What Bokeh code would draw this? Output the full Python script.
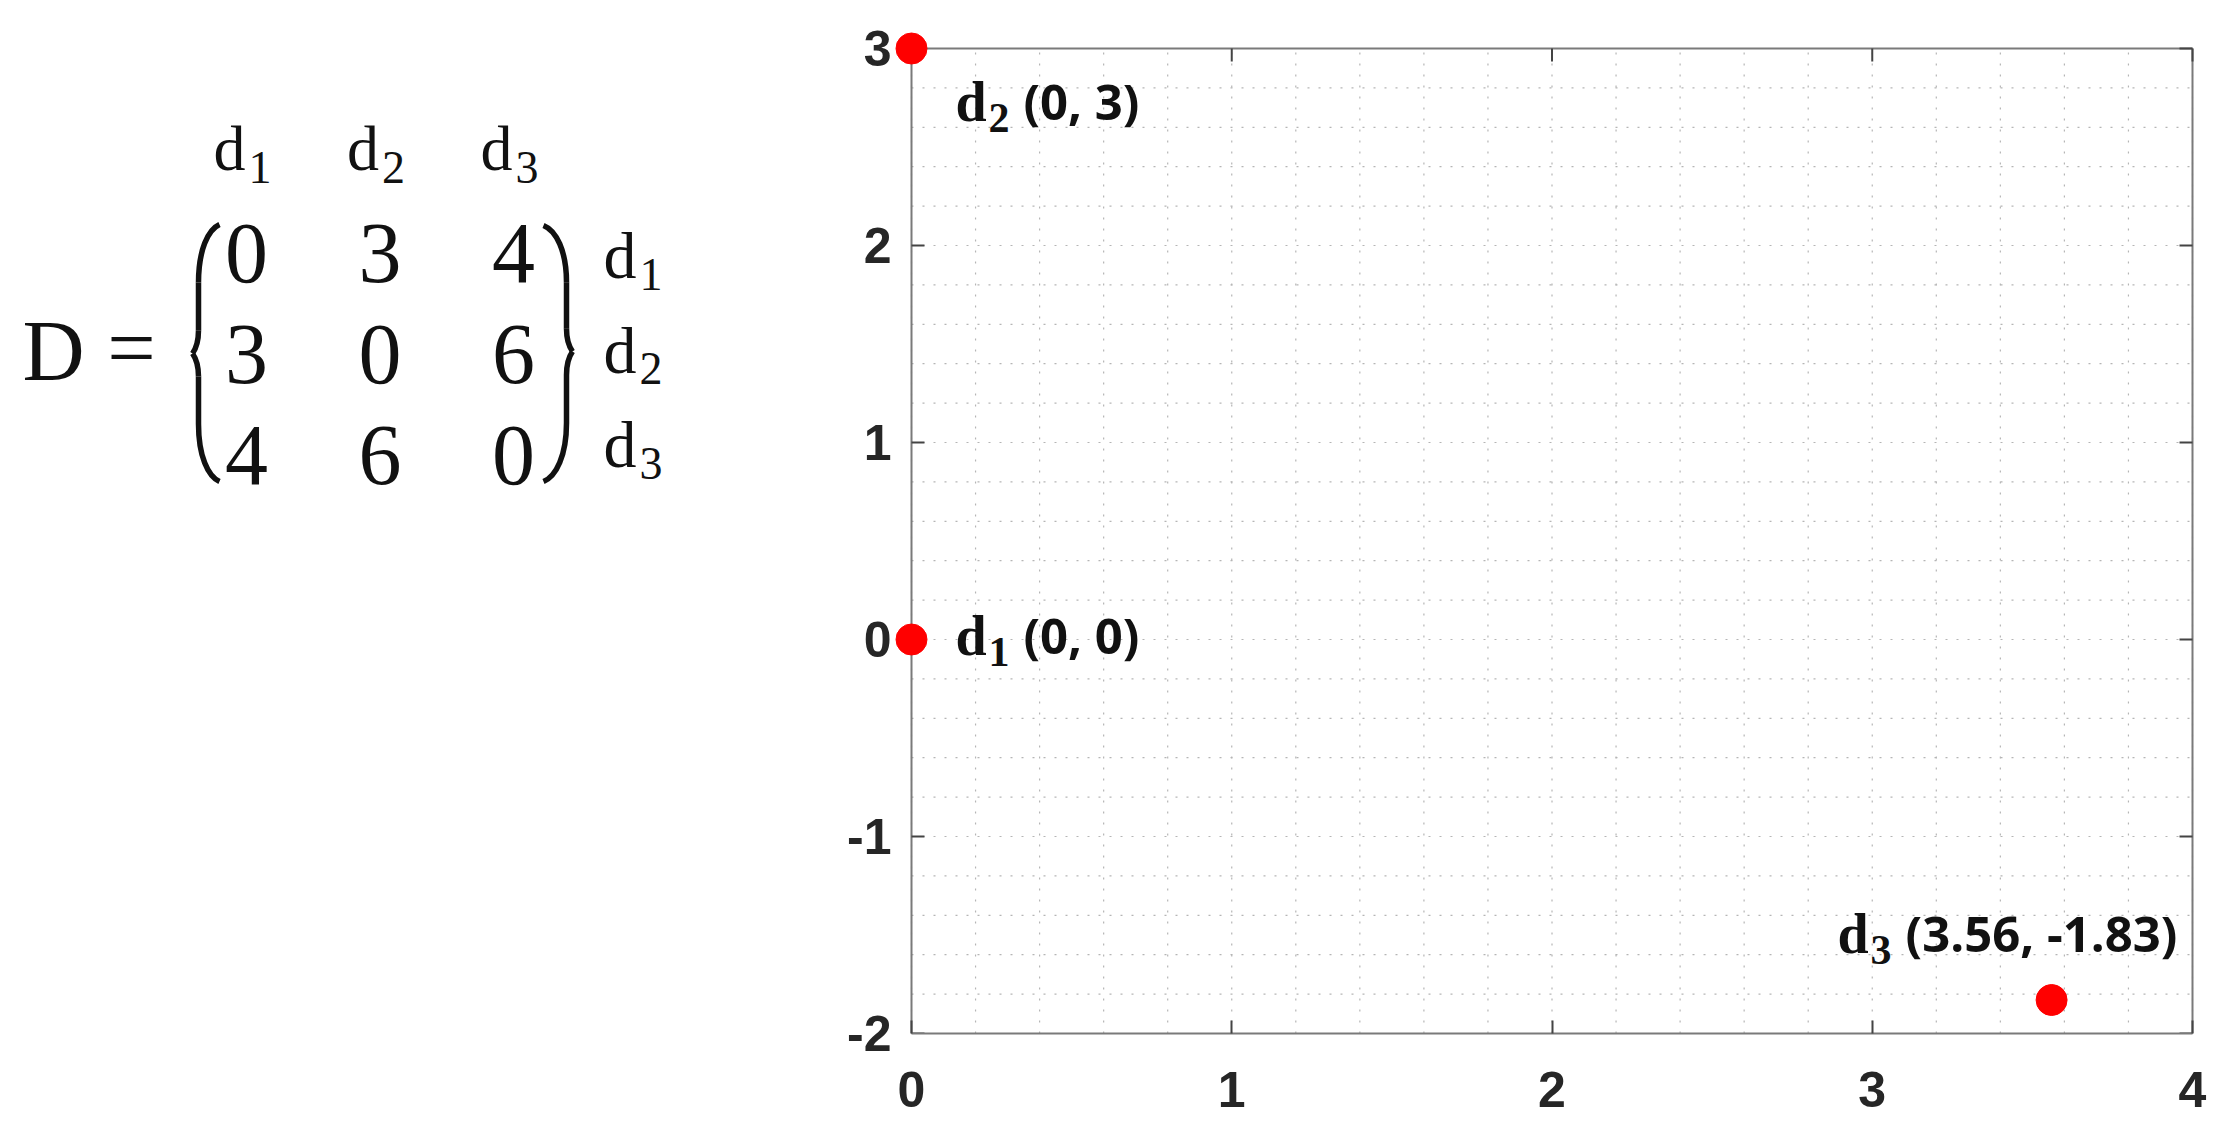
import numpy as np
from bokeh.plotting import figure
from bokeh.models import Range1d, FixedTicker, ColumnDataSource
from bokeh.layouts import row
from bokeh.core.properties import value
from bokeh.embed import file_html
from bokeh.resources import INLINE

# ---------------- data ----------------
names = ["d", "d", "d"]
name_subs = ["1", "2", "3"]
D = [[0, 3, 4],
     [3, 0, 6],
     [4, 6, 0]]
px = [0.0, 0.0, 3.56]
py = [0.0, 3.0, -1.83]
x_ticks = [0, 1, 2, 3, 4]
y_ticks = [-2, -1, 0, 1, 2, 3]
coord_labels = ["(%g, %g)" % (a, b) for a, b in zip(px, py)]

# label placement (screen px offsets from the point, to the text baseline)
label_dx = [44, 44, -214]
label_dy = [9, 66, -54]

SERIF = value("Liberation Serif")
LABEL_SANS = value("Open Sans")
INK = "#111111"
PAGE_H = 1134
TOP_B, BOT_B = 28, 101          # shared frame borders (row aligns frames)
SERIF_DESC = 0.22
SANS_DESC = 0.27
LEFT_SHIFT = 8

# ---------------- left: the matrix ----------------
L = figure(width=700, height=PAGE_H, x_range=Range1d(0, 700),
           y_range=Range1d(PAGE_H - BOT_B, TOP_B),
           output_backend="svg", toolbar_location=None, x_axis_type=None, y_axis_type=None,
           min_border_left=0, min_border_right=0, min_border_top=TOP_B,
           min_border_bottom=BOT_B, title=None)
L.outline_line_color = None


def ltext(xs, ys, texts, size, align="left"):
    L.text(x=xs, y=[y - SERIF_DESC * size - LEFT_SHIFT for y in ys], text=texts,
           text_font=SERIF, text_font_size="%dpx" % size, text_align=align,
           text_baseline="alphabetic", text_color=INK)


col0, col_step = 246, 133.5
row0, row_step = 280, 101
MF = 86

ltext([22], [377], ["D"], MF)
ltext([131], [374], ["="], MF, "center")

vx, vy, vt = [], [], []
for i in range(3):
    for j in range(3):
        vx.append(col0 + j * col_step)
        vy.append(row0 + i * row_step)
        vt.append(str(D[i][j]))
ltext(vx, vy, vt, MF, "center")

# column headers
hx = [col0 + j * col_step - 33 for j in range(3)]
ltext(hx, [170] * 3, names, 64)
ltext([h + 35 for h in hx], [185] * 3, name_subs, 46)

# row labels
rl0, rl_step = 278, 94.5
ry = [rl0 + i * rl_step for i in range(3)]
ltext([603] * 3, ry, names, 66)
ltext([639] * 3, [r + 14 for r in ry], name_subs, 46)


def brace(x_end, x_stem, x_tip, y_top, y_mid, y_bot):
    segs = []
    for ya, sgn in ((y_top, 1), (y_bot, -1)):
        h = abs(y_mid - ya)
        w = x_end - x_stem
        segs.append(((x_end, ya), (x_stem + 0.45 * w, ya + sgn * 0.04 * h),
                     (x_stem, ya + sgn * 0.2 * h), (x_stem, ya + sgn * 0.45 * h)))
        segs.append(((x_stem, ya + sgn * 0.45 * h), (x_stem, ya + sgn * 0.6 * h),
                     (x_stem, ya + sgn * 0.7 * h), (x_stem, ya + sgn * 0.82 * h)))
        segs.append(((x_stem, ya + sgn * 0.82 * h), (x_stem, ya + sgn * 0.93 * h),
                     (x_tip + 0.3 * (x_stem - x_tip), y_mid - sgn * 0.02 * h), (x_tip, y_mid)))
    return dict(x0=[s[0][0] for s in segs], y0=[s[0][1] for s in segs],
                cx0=[s[1][0] for s in segs], cy0=[s[1][1] for s in segs],
                cx1=[s[2][0] for s in segs], cy1=[s[2][1] for s in segs],
                x1=[s[3][0] for s in segs], y1=[s[3][1] for s in segs])


for b in (brace(219, 198, 192, 224, 353, 481), brace(543, 566, 572, 225, 351, 481)):
    L.bezier(source=ColumnDataSource(b), x0="x0", y0="y0", x1="x1", y1="y1",
             cx0="cx0", cy0="cy0", cx1="cx1", cy1="cy1", line_color=INK, line_width=5.5)

# ---------------- right: the scatter ----------------
SX = 1281 / 4.0   # px per x unit
SY = 985 / 5.0    # px per y unit
EXT_L, EXT_T, EXT_R = 20, 20, 6
R = figure(width=1508, height=PAGE_H,
           x_range=Range1d(x_ticks[0] - EXT_L / SX, x_ticks[-1] + EXT_R / SX),
           y_range=Range1d(y_ticks[0], y_ticks[-1] + EXT_T / SY),
           output_backend="svg", toolbar_location=None,
           min_border_left=191, min_border_right=10, min_border_top=TOP_B,
           min_border_bottom=BOT_B)
R.outline_line_color = None
R.xgrid.visible = False
R.ygrid.visible = False

AX_COL = "#7a7a7a"
TICK_COL = "#444444"
LBL_FONT = "Liberation Sans"

xa = R.xaxis[0]
xa.ticker = FixedTicker(ticks=x_ticks)
xa.bounds = (x_ticks[0], x_ticks[-1])
xa.axis_line_color = AX_COL
xa.axis_line_width = 2
xa.major_tick_in = 13
xa.major_tick_out = 0
xa.major_tick_line_color = TICK_COL
xa.major_tick_line_width = 2
xa.minor_tick_line_color = None
xa.major_label_text_font = LBL_FONT
xa.major_label_text_font_style = "bold"
xa.major_label_text_font_size = "50px"
xa.major_label_text_color = "#262626"
xa.major_label_standoff = 38
xa.major_label_overrides = {t: str(t) for t in x_ticks}

ya = R.yaxis[0]
ya.ticker = FixedTicker(ticks=y_ticks)
ya.axis_line_color = None
ya.major_tick_line_color = None
ya.minor_tick_line_color = None
ya.major_tick_in = 0
ya.major_tick_out = 0
ya.major_label_text_font = LBL_FONT
ya.major_label_text_font_style = "bold"
ya.major_label_text_font_size = "50px"
ya.major_label_text_color = "#262626"
ya.major_label_standoff = 0
ya.major_label_overrides = {t: str(t) for t in y_ticks}

# dotted grid every 0.2
grid_step = 0.2
gx = np.round(np.arange(x_ticks[0], x_ticks[-1] + 1e-9, grid_step), 6)
gy = np.round(np.arange(y_ticks[0], y_ticks[-1] + 1e-9, grid_step), 6)
R.segment(x0=gx, y0=[y_ticks[0]] * len(gx), x1=gx, y1=[y_ticks[-1]] * len(gx),
          line_color="#b5b5b5", line_width=1.2, line_dash="2 9", level="underlay")
R.segment(x0=[x_ticks[0]] * len(gy), y0=gy, x1=[x_ticks[-1]] * len(gy), y1=gy,
          line_color="#b5b5b5", line_width=1.2, line_dash="2 9", level="underlay")

# box: left, top, right lines with inward ticks
x0b, x1b, y0b, y1b = x_ticks[0], x_ticks[-1], y_ticks[0], y_ticks[-1]
R.segment(x0=[x0b, x0b, x1b], y0=[y0b, y1b, y0b], x1=[x0b, x1b, x1b], y1=[y1b, y1b, y1b],
          line_color=AX_COL, line_width=2)
tx, ty = 13 / SX, 13 / SY
R.segment(x0=[x0b] * len(y_ticks), y0=y_ticks, x1=[x0b + tx] * len(y_ticks), y1=y_ticks,
          line_color=TICK_COL, line_width=2)
R.segment(x0=[x1b] * len(y_ticks), y0=y_ticks, x1=[x1b - tx] * len(y_ticks), y1=y_ticks,
          line_color=TICK_COL, line_width=2)
R.segment(x0=x_ticks, y0=[y1b] * len(x_ticks), x1=x_ticks, y1=[y1b - ty] * len(x_ticks),
          line_color=TICK_COL, line_width=2)

R.scatter(px, py, size=31, color="#ff0000", level="overlay")

NF, SF, CF = 56, 42, 49
src = ColumnDataSource(dict(x=px, y=py, name=names, sub=name_subs, coord=coord_labels,
                            dx=label_dx,
                            dy=[d - SERIF_DESC * NF for d in label_dy],
                            sdx=[d + 33 for d in label_dx],
                            sdy=[d + 13 - SERIF_DESC * SF for d in label_dy],
                            cdx=[d + 68 for d in label_dx],
                            cdy=[d - SANS_DESC * CF for d in label_dy]))
R.text(x="x", y="y", text="name", source=src, x_offset="dx", y_offset="dy",
       text_font=SERIF, text_font_style="bold", text_font_size="%dpx" % NF,
       text_align="left", text_baseline="alphabetic", text_color=INK, level="overlay")
R.text(x="x", y="y", text="sub", source=src, x_offset="sdx", y_offset="sdy",
       text_font=SERIF, text_font_style="bold", text_font_size="%dpx" % SF,
       text_align="left", text_baseline="alphabetic", text_color=INK, level="overlay")
R.text(x="x", y="y", text="coord", source=src, x_offset="cdx", y_offset="cdy",
       text_font=LABEL_SANS, text_font_style="bold", text_font_size="%dpx" % CF,
       text_align="left", text_baseline="alphabetic", text_color=INK, level="overlay")

layout = row(L, R)
open("out.html", "w").write(file_html(layout, INLINE))
